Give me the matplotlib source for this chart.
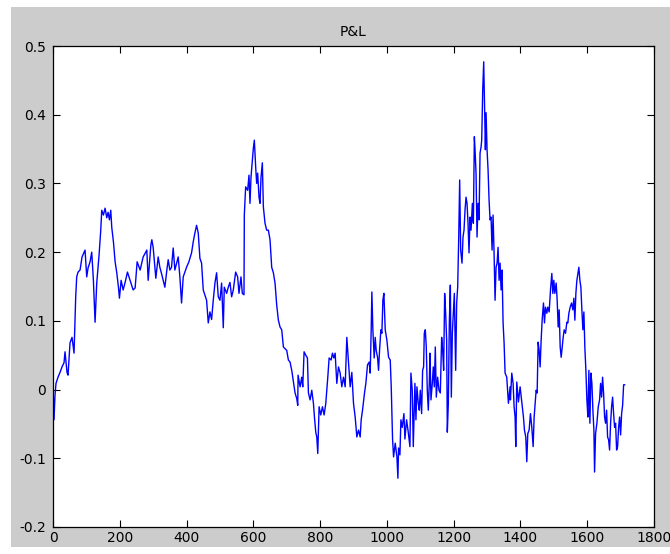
import matplotlib
matplotlib.use('Agg')
import matplotlib.pyplot as plt
from matplotlib.patches import Rectangle

# P&L curve (day index, value)
day = [0, 3, 6, 9, 15, 21, 27, 33, 36, 42, 45, 51, 57, 63, 68, 71, 75, 81, 87, 96,
       101, 105, 111, 116, 121, 126, 131, 138, 143, 146, 151, 156, 161, 165, 169, 173, 176, 181, 186, 191,
       196, 199, 204, 210, 216, 223, 231, 240, 246, 252, 261, 270, 281, 285, 293, 296, 300, 308, 315, 320,
       326, 335, 341, 345, 350, 355, 360, 365, 375, 380, 385, 390, 400, 407, 415, 420, 425, 430, 435, 440,
       445, 450, 460, 465, 470, 475, 480, 485, 490, 495, 500, 505, 510, 513, 520, 525, 530, 535, 540, 547,
       553, 557, 563, 567, 572, 573, 577, 583, 587, 590, 593, 597, 600, 603, 607, 610, 613, 617, 620, 623,
       627, 630, 633, 635, 640, 645, 650, 655, 660, 665, 670, 675, 680, 685, 690, 700, 705, 710, 715, 720,
       725, 730, 733, 734, 740, 745, 748, 752, 757, 762, 765, 770, 775, 780, 783, 787, 790, 793, 797, 802,
       807, 812, 817, 823, 827, 833, 837, 841, 845, 850, 855, 860, 865, 870, 875, 880, 885, 890, 895, 900,
       905, 910, 915, 920, 923, 927, 933, 937, 942, 947, 950, 953, 955, 958, 962, 965, 968, 972, 975, 978,
       982, 985, 988, 991, 995, 1000, 1005, 1010, 1013, 1017, 1020, 1025, 1030, 1033, 1035, 1039, 1042, 1046, 1051, 1054,
       1059, 1064, 1069, 1072, 1076, 1079, 1084, 1087, 1090, 1094, 1097, 1100, 1104, 1107, 1110, 1112, 1115, 1118, 1121, 1124,
       1127, 1129, 1132, 1136, 1139, 1142, 1145, 1148, 1152, 1156, 1160, 1164, 1167, 1170, 1173, 1176, 1179, 1181, 1184, 1187,
       1190, 1193, 1196, 1199, 1202, 1206, 1209, 1212, 1215, 1218, 1221, 1225, 1228, 1231, 1234, 1237, 1240, 1243, 1246, 1249,
       1252, 1256, 1259, 1262, 1264, 1267, 1270, 1273, 1276, 1279, 1282, 1284, 1287, 1290, 1292, 1295, 1297, 1300, 1303, 1306,
       1309, 1312, 1315, 1318, 1321, 1324, 1327, 1330, 1333, 1336, 1339, 1342, 1345, 1348, 1351, 1354, 1359, 1364, 1369, 1370,
       1374, 1378, 1381, 1384, 1386, 1389, 1394, 1399, 1404, 1409, 1412, 1416, 1419, 1422, 1426, 1430, 1434, 1438, 1441, 1444,
       1447, 1450, 1453, 1456, 1459, 1462, 1465, 1469, 1472, 1475, 1479, 1482, 1486, 1490, 1494, 1497, 1500, 1503, 1507, 1510,
       1513, 1516, 1519, 1522, 1525, 1528, 1531, 1535, 1539, 1542, 1545, 1549, 1553, 1557, 1560, 1563, 1566, 1569, 1572, 1575,
       1578, 1581, 1584, 1587, 1590, 1593, 1596, 1599, 1602, 1605, 1608, 1611, 1614, 1617, 1620, 1622, 1625, 1629, 1633, 1637,
       1640, 1643, 1646, 1649, 1652, 1655, 1658, 1661, 1664, 1667, 1670, 1673, 1676, 1679, 1682, 1685, 1688, 1691, 1694, 1697,
       1700, 1703, 1706, 1709, 1712]

pnl = [0.007, -0.044, -0.008, 0.009, 0.018, 0.025, 0.033, 0.039, 0.055, 0.025, 0.021, 0.068, 0.076, 0.053, 0.135, 0.164, 0.171, 0.174, 0.193, 0.203,
       0.164, 0.177, 0.186, 0.200, 0.159, 0.098, 0.155, 0.196, 0.232, 0.261, 0.254, 0.264, 0.250, 0.258, 0.247, 0.261, 0.236, 0.215, 0.186, 0.170,
       0.149, 0.133, 0.159, 0.145, 0.156, 0.171, 0.159, 0.145, 0.148, 0.186, 0.174, 0.193, 0.203, 0.159, 0.210, 0.218, 0.207, 0.162, 0.193, 0.178,
       0.167, 0.149, 0.174, 0.189, 0.174, 0.178, 0.206, 0.174, 0.193, 0.164, 0.126, 0.164, 0.178, 0.186, 0.199, 0.215, 0.228, 0.239, 0.228, 0.191,
       0.184, 0.145, 0.130, 0.097, 0.113, 0.102, 0.130, 0.155, 0.170, 0.135, 0.130, 0.155, 0.090, 0.149, 0.140, 0.149, 0.156, 0.135, 0.145, 0.171,
       0.164, 0.140, 0.164, 0.140, 0.138, 0.254, 0.295, 0.290, 0.312, 0.271, 0.309, 0.334, 0.351, 0.363, 0.324, 0.300, 0.315, 0.280, 0.271, 0.309,
       0.330, 0.266, 0.251, 0.242, 0.232, 0.232, 0.218, 0.178, 0.170, 0.155, 0.123, 0.101, 0.091, 0.087, 0.062, 0.057, 0.043, 0.040, 0.028, 0.011,
       -0.005, -0.013, -0.023, 0.021, 0.004, 0.018, 0.004, 0.055, 0.050, 0.046, -0.005, -0.015, -0.001, -0.020, -0.040, -0.062, -0.069, -0.093, -0.025, -0.037,
       -0.025, -0.037, -0.020, 0.018, 0.046, 0.043, 0.053, 0.046, 0.053, 0.009, 0.033, 0.024, 0.004, 0.018, 0.004, 0.076, 0.039, 0.004, 0.025, -0.020,
       -0.040, -0.069, -0.059, -0.069, -0.044, -0.030, -0.005, 0.009, 0.036, 0.040, 0.024, 0.087, 0.142, 0.087, 0.046, 0.076, 0.057, 0.047, 0.028, 0.057,
       0.087, 0.082, 0.130, 0.140, 0.087, 0.072, 0.047, 0.043, 0.004, -0.072, -0.098, -0.078, -0.098, -0.129, -0.085, -0.095, -0.044, -0.055, -0.035, -0.072,
       -0.044, -0.062, -0.083, 0.024, -0.001, -0.083, 0.009, -0.044, 0.004, -0.020, -0.030, -0.001, -0.035, 0.028, 0.033, 0.082, 0.087, 0.062, -0.001, -0.030,
       0.009, 0.053, -0.015, 0.009, 0.033, 0.004, 0.062, -0.011, 0.018, -0.001, -0.005, 0.076, 0.057, 0.028, 0.140, 0.111, 0.072, -0.062, -0.020, 0.097,
       0.152, -0.011, 0.082, 0.111, 0.140, 0.028, 0.126, 0.149, 0.218, 0.305, 0.203, 0.184, 0.222, 0.232, 0.261, 0.280, 0.271, 0.242, 0.199, 0.251,
       0.232, 0.271, 0.242, 0.368, 0.349, 0.315, 0.222, 0.271, 0.247, 0.344, 0.353, 0.363, 0.436, 0.477, 0.426, 0.349, 0.403, 0.349, 0.320, 0.276,
       0.247, 0.251, 0.203, 0.254, 0.199, 0.130, 0.178, 0.184, 0.207, 0.159, 0.184, 0.145, 0.174, 0.097, 0.068, 0.024, 0.018, -0.020, 0.004, -0.015,
       0.024, 0.009, -0.025, -0.040, -0.083, 0.011, -0.018, 0.004, -0.018, -0.040, -0.059, -0.069, -0.105, -0.064, -0.059, -0.035, -0.055, -0.083, -0.040, -0.020,
       -0.001, -0.005, 0.069, 0.057, 0.033, 0.072, 0.101, 0.126, 0.097, 0.120, 0.111, 0.120, 0.113, 0.145, 0.169, 0.140, 0.159, 0.140, 0.155, 0.130,
       0.091, 0.116, 0.062, 0.047, 0.062, 0.076, 0.087, 0.082, 0.098, 0.097, 0.111, 0.120, 0.126, 0.116, 0.133, 0.101, 0.140, 0.159, 0.169, 0.178,
       0.159, 0.149, 0.116, 0.087, 0.113, 0.060, 0.028, -0.015, -0.040, 0.028, -0.049, 0.024, 0.009, -0.030, -0.059, -0.120, -0.064, -0.049, -0.025, -0.015,
       0.009, -0.011, 0.018, -0.005, -0.040, -0.049, -0.030, -0.069, -0.073, -0.088, -0.049, -0.025, -0.011, -0.035, -0.055, -0.049, -0.088, -0.083, -0.055, -0.040,
       -0.066, -0.035, -0.023, 0.007, 0.007]

x_ticks = [0, 200, 400, 600, 800, 1000, 1200, 1400, 1600, 1800]
y_ticks = [-0.2, -0.1, 0, 0.1, 0.2, 0.3, 0.4, 0.5]
y_tick_labels = ['-0.2', '-0.1', '0', '0.1', '0.2', '0.3', '0.4', '0.5']

plt.rcParams['font.family'] = ['DejaVu Sans']

fig = plt.figure(figsize=(6.7, 5.54), dpi=100, facecolor='white')
# grey figure area like the MATLAB window
fig.patches.append(Rectangle((11 / 670, 7 / 554), 659 / 670, 540 / 554,
                             transform=fig.transFigure, facecolor='#cccccc',
                             edgecolor='none', zorder=-1))

ax = fig.add_axes([53 / 670, 27 / 554, 601 / 670, 481 / 554])
ax.plot(day, pnl, color='#0000ff', linewidth=1.0)

ax.set_xlim(0, 1800)
ax.set_ylim(-0.2, 0.5)
ax.set_xticks(x_ticks)
ax.set_xticklabels([str(t) for t in x_ticks])
ax.set_yticks(y_ticks)
ax.set_yticklabels(y_tick_labels)
ax.tick_params(direction='in', length=5, width=0.8, top=True, right=True,
               labelsize=10, colors='black')
ax.tick_params(axis='y', pad=5)
ax.tick_params(axis='x', pad=3)
for s in ax.spines.values():
    s.set_linewidth(0.9)

ax.set_title('P&L', fontsize=10, pad=7)

fig.savefig('out.png', dpi=100, facecolor=fig.get_facecolor())
